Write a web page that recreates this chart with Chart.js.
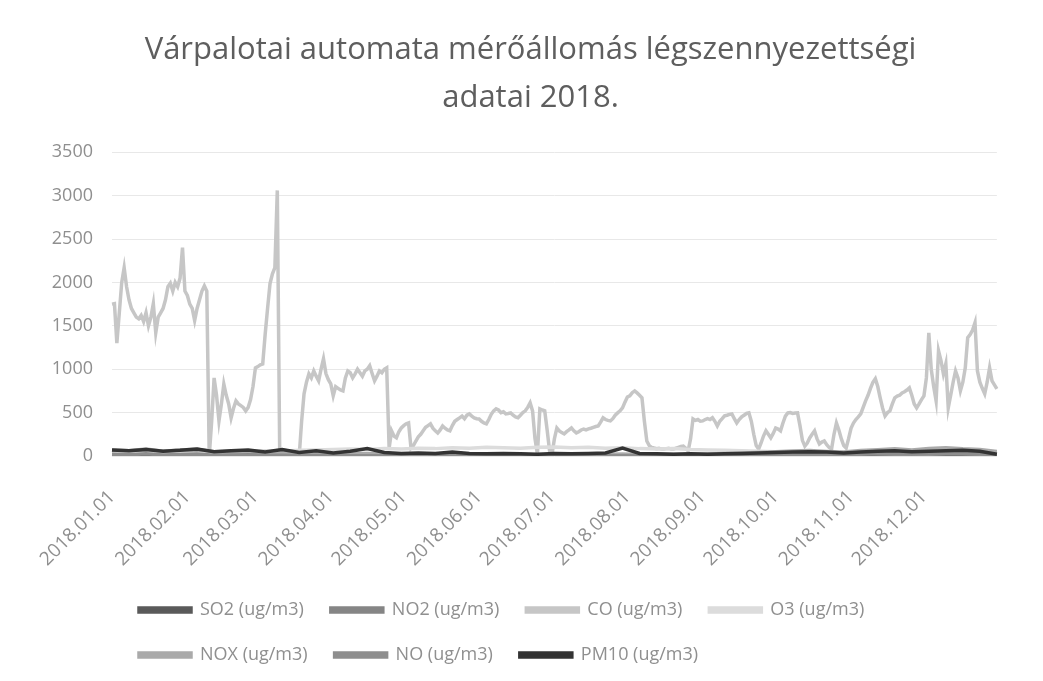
<!DOCTYPE html>
<html>
<head>
<meta charset="utf-8">
<script src="https://cdn.jsdelivr.net/npm/chart.js@4/dist/chart.umd.min.js"></script>
<style>
  html, body { margin: 0; padding: 0; background: #ffffff; }
  #wrap { position: relative; width: 1043px; height: 681px; }
</style>
</head>
<body>
<div id="wrap"><canvas id="c" width="1043" height="681"></canvas></div>
<script>
// ---- categories ----
const YEAR = '2018';
const MONTHS = ['01','02','03','04','05','06','07','08','09','10','11','12'];
const MONTH_DAYS = [31,28,31,30,31,30,31,31,30,31,30,31];
const labels = [];
MONTHS.forEach((m, i) => {
  for (let d = 1; d <= MONTH_DAYS[i]; d++) labels.push(YEAR + '.' + m + '.' + String(d).padStart(2, '0'));
});

// ---- CO (ug/m3), daily ----
const coJan = [1750,1755,1300,1650,2000,2170,1950,1800,1700,1650,1600,1580,1620,1550,1650,1500,1600,1755,1420,1600,1650,1700,1800,1950,1990,1900,2000,1950,2050,2400,1900];
const coFeb = [1850,1750,1700,1560,1700,1800,1900,1960,1900,0,400,900,700,404,600,830,700,600,440,550,635,600,580,560,520,560,650,800];
const coMar = [1016,1030,1050,1060,1400,1700,1986,2100,2170,3060,0,0,0,0,0,0,0,0,0,400,716,850,947,900,980,920,866,1000,1120,950,880];
const coApr = [830,693,800,780,760,750,900,980,960,900,947,1000,960,920,980,1000,1040,950,866,920,980,960,1000,1016,90,290,230,210,280,323];
const coMay = [350,370,380,90,120,173,220,250,290,330,350,370,320,290,265,300,346,320,300,290,350,400,420,440,460,430,470,485,460,440,430];
const coJun = [427,400,380,370,420,480,520,543,530,500,510,485,490,497,470,450,440,470,500,520,560,612,520,200,20,543,530,520,300,60];
const coJul = [20,200,323,290,270,254,280,300,323,290,266,280,300,310,300,312,320,330,340,346,390,440,420,410,404,430,470,497,520,554,620];
const coAug = [680,693,730,750,727,700,670,400,173,120,100,92,85,90,80,80,85,90,80,80,90,100,110,115,90,58,200,427,410,420,400];
const coSep = [404,420,430,420,440,400,346,400,430,462,470,480,485,430,380,420,450,470,490,497,400,250,120,80,150,230,290,250,208,260];
const coOct = [323,310,290,380,460,497,500,490,495,497,350,180,115,150,208,250,290,200,139,160,173,130,100,80,250,380,300,200,120,92,200];
const coNov = [320,380,420,450,485,560,635,700,780,850,890,800,670,550,462,500,520,600,670,690,700,727,740,760,785,700,600,554,600,650];
const coDec = [693,900,1420,1000,800,635,1213,1100,947,1063,554,700,850,980,900,750,850,1016,1363,1400,1450,1536,980,850,780,716,850,1016,866,820,774];
const coValues = [].concat(coJan, coFeb, coMar, coApr, coMay, coJun, coJul, coAug, coSep, coOct, coNov, coDec);

// ---- small series, weekly readings (every 7th day from 2018.01.01) ----
const so2Weekly  = [8,9,10,8,7,9,8,7,6,5,6,5,5,4,4,5,4,4,3,3,4,3,3,3,3,3,4,3,3,3,4,3,3,3,3,3,4,4,5,5,6,6,5,6,7,8,8,7,8,9,9,8,7];
const no2Weekly  = [40,38,42,35,40,45,35,38,36,30,32,28,25,22,20,22,18,16,15,14,15,14,13,14,13,12,14,13,14,15,16,15,14,15,16,18,20,22,25,28,30,32,30,28,32,35,38,36,40,42,40,38,30];
const o3Weekly   = [30,25,35,40,35,30,45,50,55,60,55,65,70,75,80,75,85,80,90,85,95,90,100,95,90,100,105,95,100,90,95,85,80,85,75,70,65,60,55,50,45,40,35,40,35,30,25,30,25,30,28,25,30];
const noxWeekly  = [70,60,80,55,68,78,50,56,52,42,44,37,33,28,25,28,23,21,18,17,20,17,16,17,16,15,17,16,17,20,21,18,19,20,21,24,29,34,40,50,58,63,53,46,62,73,84,70,86,95,83,76,53];
const noWeekly   = [20,15,25,12,18,22,10,12,10,8,8,6,5,4,3,4,3,3,2,2,3,2,2,2,2,2,2,2,2,3,3,2,3,3,3,4,6,8,10,14,18,20,15,12,20,25,30,22,30,35,28,25,15];
const pm10Weekly = [70,60,75,55,65,80,50,60,70,45,75,40,60,35,55,85,40,30,35,30,45,30,25,30,25,20,30,25,30,35,90,30,25,20,25,20,25,30,35,40,45,50,45,35,45,55,60,50,55,60,65,55,20];

const seriesNames = ['SO2 (ug/m3)','NO2 (ug/m3)','CO (ug/m3)','O3 (ug/m3)','NOX (ug/m3)','NO (ug/m3)','PM10 (ug/m3)'];
const yTicks = [0,500,1000,1500,2000,2500,3000,3500];

function weekly(arr) { return arr.map((v, i) => ({ x: labels[Math.min(i * 7, labels.length - 1)], y: v })); }

const colors = ['#5a5a5a','#858585','#c6c6c6','#dcdcdc','#aaaaaa','#8e8e8e','#333333'];
const widths = [3.5, 3.5, 3.5, 3.5, 3.5, 3.5, 3.5];
const dataArr = [weekly(so2Weekly), weekly(no2Weekly), coValues, weekly(o3Weekly), weekly(noxWeekly), weekly(noWeekly), weekly(pm10Weekly)];
const orders = [5, 6, 7, 4, 3, 2, 1];

const datasets = seriesNames.map((n, i) => ({
  label: n,
  data: dataArr[i],
  borderColor: colors[i],
  backgroundColor: colors[i],
  borderWidth: widths[i],
  pointRadius: 0,
  tension: 0,
  fill: false,
  order: orders[i]
}));

const FONT = "'Open Sans', 'DejaVu Sans', sans-serif";

// shift the title block a little to the right, as in the reference
const titleShift = {
  id: 'titleShift',
  afterLayout(chart) {
    if (chart.titleBlock) chart.titleBlock.left += 38;
  }
};

new Chart(document.getElementById('c'), {
  type: 'line',
  data: { labels, datasets },
  plugins: [titleShift],
  options: {
    responsive: false,
    animation: false,
    layout: { padding: { left: 10, right: 30, top: 0, bottom: 7 } },
    plugins: {
      title: {
        display: true,
        text: ['Várpalotai automata mérőállomás légszennyezettségi', 'adatai 2018.'],
        color: '#5e5e5e',
        font: { family: FONT, size: 31, weight: 'normal', lineHeight: 1.52 },
        padding: { top: 27, bottom: 31 }
      },
      legend: {
        position: 'bottom',
        align: 'start',
        fullSize: false,
        labels: {
          color: '#8f8f8f',
          font: { family: FONT, size: 18 },
          boxWidth: 52,
          boxHeight: 4,
          padding: 27,
          sort: (a, b) => a.datasetIndex - b.datasetIndex
        }
      },
      tooltip: { enabled: false }
    },
    scales: {
      x: {
        type: 'category',
        offset: false,
        grid: { display: false, drawTicks: false },
        border: { display: false },
        afterFit: (s) => { s.height = 118; },
        ticks: {
          autoSkip: false,
          maxRotation: 45,
          minRotation: 45,
          padding: 30,
          color: '#8f8f8f',
          font: { family: FONT, size: 19 },
          callback: function (v) {
            const l = this.getLabelForValue(v);
            return l.endsWith('.01') ? l : '';
          }
        }
      },
      y: {
        min: yTicks[0],
        max: yTicks[yTicks.length - 1],
        afterFit: (s) => { s.width = 102; },
        afterBuildTicks: (s) => { s.ticks = yTicks.map(v => ({ value: v })); },
        grid: { color: '#e8e8e8', lineWidth: 1, drawTicks: false },
        border: { display: false },
        ticks: {
          padding: 19,
          color: '#8f8f8f',
          font: { family: FONT, size: 18 },
          callback: (v) => String(v)
        }
      }
    }
  }
});
</script>
</body>
</html>
